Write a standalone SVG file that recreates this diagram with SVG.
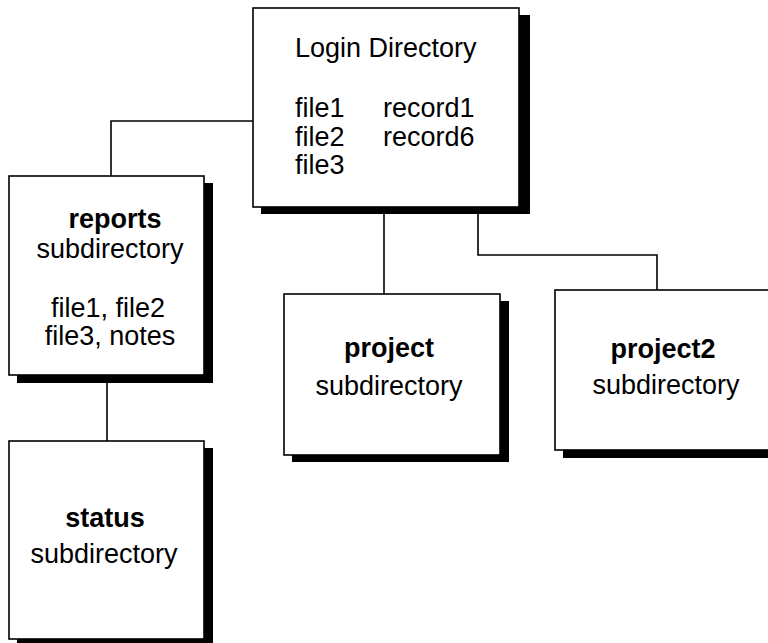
<svg xmlns="http://www.w3.org/2000/svg" width="768" height="643" viewBox="0 0 768 643">
<style>
.shadow{fill:#000}
.box{fill:#fff;stroke:#000;stroke-width:1.6}
.conn{fill:none;stroke:#000;stroke-width:1.6}
text{font-family:"Liberation Sans",Arial,sans-serif;font-size:27px;fill:#000}
.b{font-weight:bold}
.c{text-anchor:middle}
</style>
<rect width="768" height="643" fill="#fff"/>
<g id="connectors">
<polyline class="conn" points="253,121 111,121 111,176"/>
<line class="conn" x1="384" y1="207" x2="384" y2="294"/>
<polyline class="conn" points="478,207 478,255 657,255 657,290"/>
<line class="conn" x1="107" y1="375" x2="107" y2="441"/>
</g>
<g id="login">
<rect class="shadow" x="261" y="15" width="269" height="199"/>
<rect class="box" x="253" y="8" width="266" height="199"/>
<text x="295" y="57">Login Directory</text>
<text x="295" y="117">file1</text>
<text x="383" y="117">record1</text>
<text x="295" y="146">file2</text>
<text x="383" y="146">record6</text>
<text x="295" y="174">file3</text>
</g>
<g id="reports">
<rect class="shadow" x="17" y="183" width="196" height="200"/>
<rect class="box" x="9" y="176" width="195" height="199"/>
<text class="c b" x="115" y="228">reports</text>
<text class="c" x="110" y="258">subdirectory</text>
<text class="c" x="108" y="317">file1, file2</text>
<text class="c" x="110" y="345">file3, notes</text>
</g>
<g id="status">
<rect class="shadow" x="17" y="448" width="196" height="200"/>
<rect class="box" x="9" y="441" width="195" height="198"/>
<text class="c b" x="105" y="527">status</text>
<text class="c" x="104" y="563">subdirectory</text>
</g>
<g id="project">
<rect class="shadow" x="292" y="301" width="217" height="161"/>
<rect class="box" x="284" y="294" width="216" height="161"/>
<text class="c b" x="389" y="357">project</text>
<text class="c" x="389" y="395">subdirectory</text>
</g>
<g id="project2">
<rect class="shadow" x="563" y="296" width="220" height="162"/>
<rect class="box" x="555" y="290" width="220" height="160"/>
<text class="c b" x="663" y="358">project2</text>
<text class="c" x="666" y="394">subdirectory</text>
</g>
</svg>
